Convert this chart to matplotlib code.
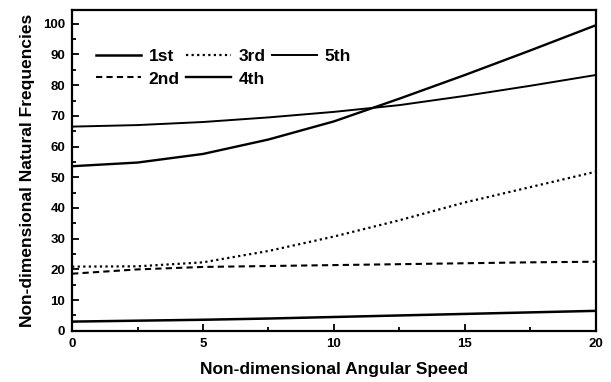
import matplotlib.pyplot as plt
from matplotlib.ticker import MultipleLocator

plt.rcParams['font.family'] = ['Liberation Sans', 'DejaVu Sans']

speed = [0, 2.5, 5, 7.5, 10, 12.5, 15, 17.5, 20]
freq_1st = [3.0, 3.3, 3.6, 4.0, 4.5, 5.0, 5.5, 6.0, 6.5]
freq_2nd = [18.6, 20.0, 20.8, 21.1, 21.4, 21.7, 22.0, 22.3, 22.5]
freq_3rd = [20.9, 21.0, 22.3, 26.0, 30.7, 36.0, 41.8, 46.8, 51.8]
freq_4th = [53.6, 54.8, 57.6, 62.3, 68.2, 75.6, 83.3, 91.3, 99.5]
freq_5th = [66.5, 67.0, 68.0, 69.5, 71.3, 73.5, 76.5, 79.8, 83.3]

fig = plt.figure(figsize=(6.11, 3.82), dpi=100)
ax = fig.add_axes([0.118, 0.134, 0.857, 0.84])

ax.plot(speed, freq_1st, color='black', lw=1.8, ls='-', label='1st')
ax.plot(speed, freq_2nd, color='black', lw=1.5, ls=(0, (3, 2)), label='2nd')
ax.plot(speed, freq_3rd, color='black', lw=1.6, ls=(0, (1, 1.5)), label='3rd')
ax.plot(speed, freq_4th, color='black', lw=1.7, ls='-', label='4th')
ax.plot(speed, freq_5th, color='black', lw=1.4, ls='-', label='5th')

ax.set_xlim(0, 20)
ax.set_ylim(0, 104.5)
ax.xaxis.set_major_locator(MultipleLocator(5))
ax.xaxis.set_minor_locator(MultipleLocator(2.5))
ax.yaxis.set_major_locator(MultipleLocator(10))
ax.yaxis.set_minor_locator(MultipleLocator(5))
ax.tick_params(which='both', direction='in', width=1.3)
ax.tick_params(which='major', length=5, labelsize=9.5, pad=5)
ax.tick_params(which='minor', length=3)
for lab in ax.get_xticklabels() + ax.get_yticklabels():
    lab.set_fontweight('bold')
for s in ax.spines.values():
    s.set_linewidth(1.6)

ax.set_xlabel('Non-dimensional Angular Speed', fontsize=12.5, fontweight='bold', labelpad=9)
ax.set_ylabel('Non-dimensional Natural Frequencies', fontsize=12.5, fontweight='bold', labelpad=6)

ax.legend(loc='upper left', ncol=3, frameon=False,
          prop={'weight': 'bold', 'size': 12.5},
          handlelength=2.6, handletextpad=0.45, columnspacing=0.35,
          labelspacing=0.45, borderpad=0, borderaxespad=0,
          bbox_to_anchor=(0.045, 0.88))

fig.savefig('out.png', dpi=100)
